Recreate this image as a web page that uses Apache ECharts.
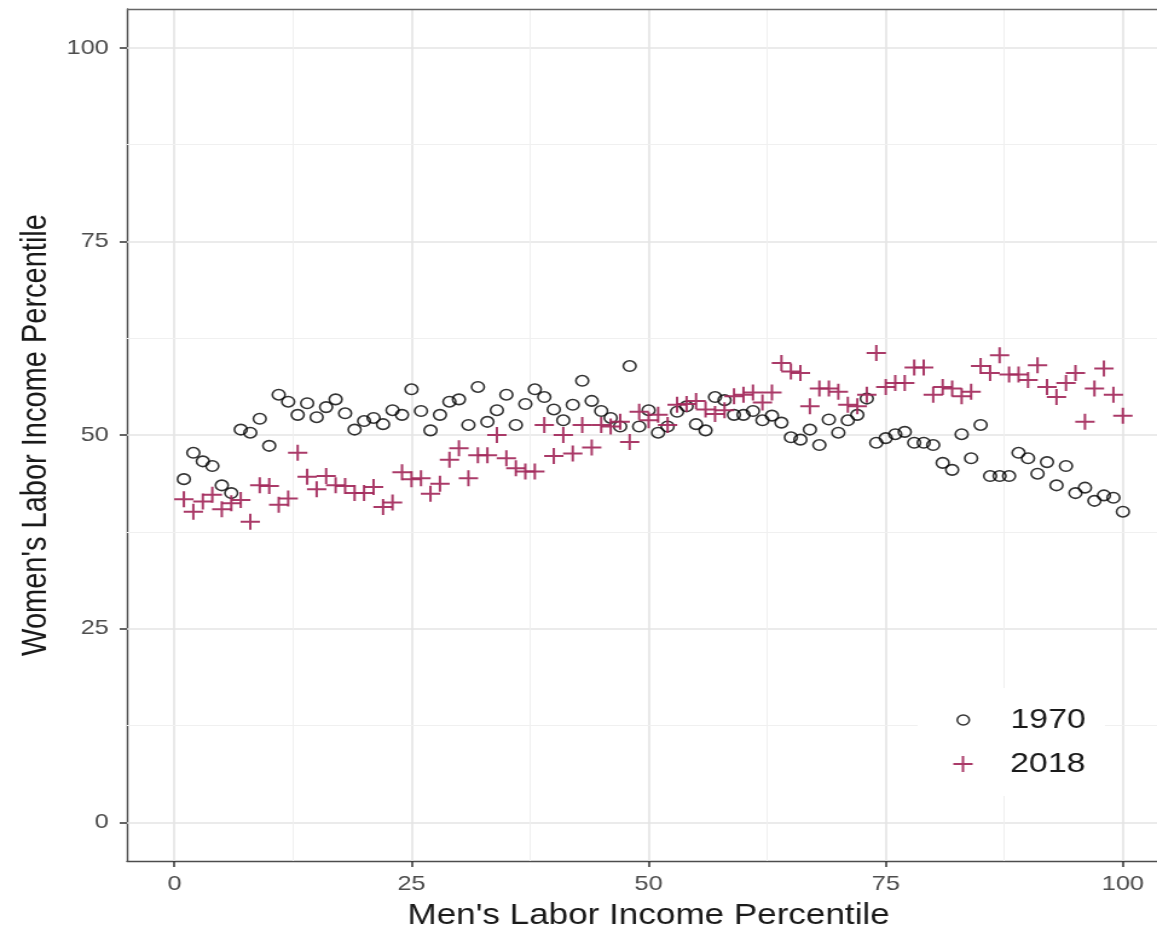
<!DOCTYPE html>
<html>
<head>
<meta charset="utf-8">
<script src="https://cdn.jsdelivr.net/npm/echarts@6/dist/echarts.min.js"></script>
<style>
  html, body { margin: 0; padding: 0; background: #fff; overflow: hidden; }
  #wrap { width: 1157px; height: 930px; overflow: hidden; }
  /* the figure is laid out narrow and widened horizontally; the panel runs past the right edge */
  #chart { width: 990px; height: 930px; transform: scaleX(1.209); transform-origin: 0 0; }
</style>
</head>
<body>
<div id="wrap"><div id="chart"></div></div>
<script>
// Men's labor income percentile (x)
const percentiles = [
  1,2,3,4,5,6,7,8,9,10,11,12,13,14,15,16,17,18,19,20,
  21,22,23,24,25,26,27,28,29,30,31,32,33,34,35,36,37,38,39,40,
  41,42,43,44,45,46,47,48,49,50,51,52,53,54,55,56,57,58,59,60,
  61,62,63,64,65,66,67,68,69,70,71,72,73,74,75,76,77,78,79,80,
  81,82,83,84,85,86,87,88,89,90,91,92,93,94,95,96,97,98,99,100
];

// Mean women's labor income percentile, 1970
const women1970 = [
  44.3,47.7,46.6,46.0,43.5,42.5,50.7,50.3,52.1,48.6,
  55.2,54.3,52.6,54.1,52.3,53.6,54.6,52.8,50.7,51.8,
  52.2,51.4,53.2,52.6,55.9,53.1,50.6,52.6,54.3,54.6,
  51.3,56.2,51.7,53.2,55.2,51.3,54.0,55.9,54.9,53.3,
  51.9,53.9,57.0,54.4,53.1,52.2,51.1,58.9,51.1,53.2,
  50.3,51.1,53.0,53.7,51.4,50.6,54.9,54.5,52.6,52.6,
  53.1,51.9,52.5,51.6,49.7,49.4,50.7,48.7,52.0,50.3,
  51.9,52.6,54.7,49.0,49.6,50.1,50.4,49.0,49.0,48.7,
  46.4,45.5,50.1,47.0,51.3,44.7,44.7,44.7,47.7,47.0,
  45.0,46.5,43.5,46.0,42.5,43.2,41.5,42.2,41.9,40.1
];

// Mean women's labor income percentile, 2018
const women2018 = [
  41.7,40.1,41.4,42.3,40.4,41.2,41.6,38.8,43.5,43.4,
  41.0,41.8,47.7,44.6,43.0,44.7,43.5,43.4,42.5,42.5,
  43.3,40.7,41.3,45.2,44.3,44.4,42.4,43.7,46.8,48.3,
  44.4,47.4,47.4,50.0,47.0,45.7,45.3,45.3,51.3,47.3,
  50.0,47.6,51.3,48.4,51.3,51.1,51.7,49.1,53.0,51.9,
  52.6,51.3,53.9,54.0,54.4,53.3,52.7,53.2,55.0,55.2,
  55.5,54.2,55.5,59.3,58.2,58.0,53.7,56.0,56.0,55.6,
  53.9,53.7,55.2,60.6,56.2,56.7,56.7,58.7,58.7,55.2,
  56.2,56.0,55.0,55.6,58.9,58.0,60.3,57.8,57.8,57.1,
  59.0,56.2,54.9,56.7,58.0,51.7,56.0,58.6,55.2,52.5
];

const yearNames = ['1970', '2018'];
const tickValues = [0, 25, 50, 75, 100];
const minorValues = [12.5, 37.5, 62.5, 87.5];
const AXIS_MIN = -5;
const AXIS_MAX = 105;

const FONT = '"Liberation Sans", Arial, Helvetica, sans-serif';
const CROSS = 'path://M7,0H9V7H16V9H9V16H7V9H0V7H7Z';
const CROSS_COLOR = '#a3295b';

const pairs = (ys) => percentiles.map((x, i) => [x, ys[i]]);

// panel grid lines, major and minor, in both directions, plus the top edge of the panel
const gridLines = [];
tickValues.forEach(v => {
  gridLines.push({ xAxis: v, lineStyle: { color: '#e4e4e4', width: 1.6, type: 'solid' } });
  gridLines.push({ yAxis: v, lineStyle: { color: '#e4e4e4', width: 1.6, type: 'solid' } });
});
minorValues.forEach(v => {
  gridLines.push({ xAxis: v, lineStyle: { color: '#f0f0f0', width: 1, type: 'solid' } });
  gridLines.push({ yAxis: v, lineStyle: { color: '#f0f0f0', width: 1, type: 'solid' } });
});
gridLines.push({ yAxis: AXIS_MAX, lineStyle: { color: '#666666', width: 1.3, type: 'solid' } });

const axisCommon = {
  type: 'value',
  min: AXIS_MIN,
  max: AXIS_MAX,
  nameLocation: 'middle',
  nameTextStyle: { fontFamily: FONT, fontSize: 29, color: '#1a1a1a' },
  axisLine: { show: true, onZero: false, lineStyle: { color: '#4d4d4d', width: 1.4 } },
  axisTick: { show: true, length: 6, customValues: tickValues, lineStyle: { color: '#333', width: 1.5 } },
  axisLabel: { customValues: tickValues, fontFamily: FONT, fontSize: 21, color: '#4d4d4d' },
  splitLine: { show: false },
  minorSplitLine: { show: false }
};

const chart = echarts.init(document.getElementById('chart'), null, { renderer: 'canvas' });

const legendCommon = {
  orient: 'vertical',
  left: 759,
  itemWidth: 68,
  selectedMode: false,
  symbolKeepAspect: true,
  textStyle: { fontFamily: FONT, fontSize: 28, color: '#1a1a1a' }
};

chart.setOption({
  animation: false,
  backgroundColor: '#ffffff',
  grid: {
    left: 105,
    top: 9,
    width: 863,
    height: 852,
    outerBoundsMode: 'none',
    show: false
  },
  xAxis: Object.assign({}, axisCommon, {
    name: "Men's Labor Income Percentile",
    nameGap: 40,
    axisLabel: Object.assign({}, axisCommon.axisLabel, { margin: 13 })
  }),
  yAxis: Object.assign({}, axisCommon, {
    name: "Women's Labor Income Percentile",
    nameGap: 60,
    axisLabel: Object.assign({}, axisCommon.axisLabel, { margin: 15 })
  }),
  // white key box behind the legend
  graphic: [{
    type: 'rect',
    z: 2,
    silent: true,
    shape: { x: 759, y: 688, width: 155, height: 108 },
    style: { fill: '#ffffff' }
  }],
  legend: [
    Object.assign({}, legendCommon, {
      top: 686,
      itemHeight: 10,
      padding: [20, 16, 8, 32],
      data: [{ name: yearNames[0], icon: 'circle',
               itemStyle: { color: 'rgba(0,0,0,0)', borderColor: '#000', borderWidth: 1.5 } }]
    }),
    Object.assign({}, legendCommon, {
      top: 742,
      itemHeight: 16,
      padding: [8, 16, 20, 29.5],
      data: [{ name: yearNames[1], icon: CROSS, itemStyle: { color: CROSS_COLOR } }]
    })
  ],
  series: [
    {
      name: 'panel',
      type: 'scatter',
      data: [],
      z: 1,
      silent: true,
      markLine: {
        silent: true,
        z: 1,
        symbol: ['none', 'none'],
        label: { show: false },
        emphasis: { disabled: true },
        data: gridLines
      }
    },
    {
      name: yearNames[0],
      type: 'scatter',
      z: 3,
      symbol: 'circle',
      symbolSize: 10.5,
      itemStyle: { color: 'rgba(0,0,0,0)', borderColor: '#000000', borderWidth: 1.6 },
      data: pairs(women1970)
    },
    {
      name: yearNames[1],
      type: 'scatter',
      z: 4,
      symbol: CROSS,
      symbolSize: 16,
      itemStyle: { color: CROSS_COLOR, opacity: 0.92 },
      data: pairs(women2018)
    }
  ]
});
</script>
</body>
</html>
